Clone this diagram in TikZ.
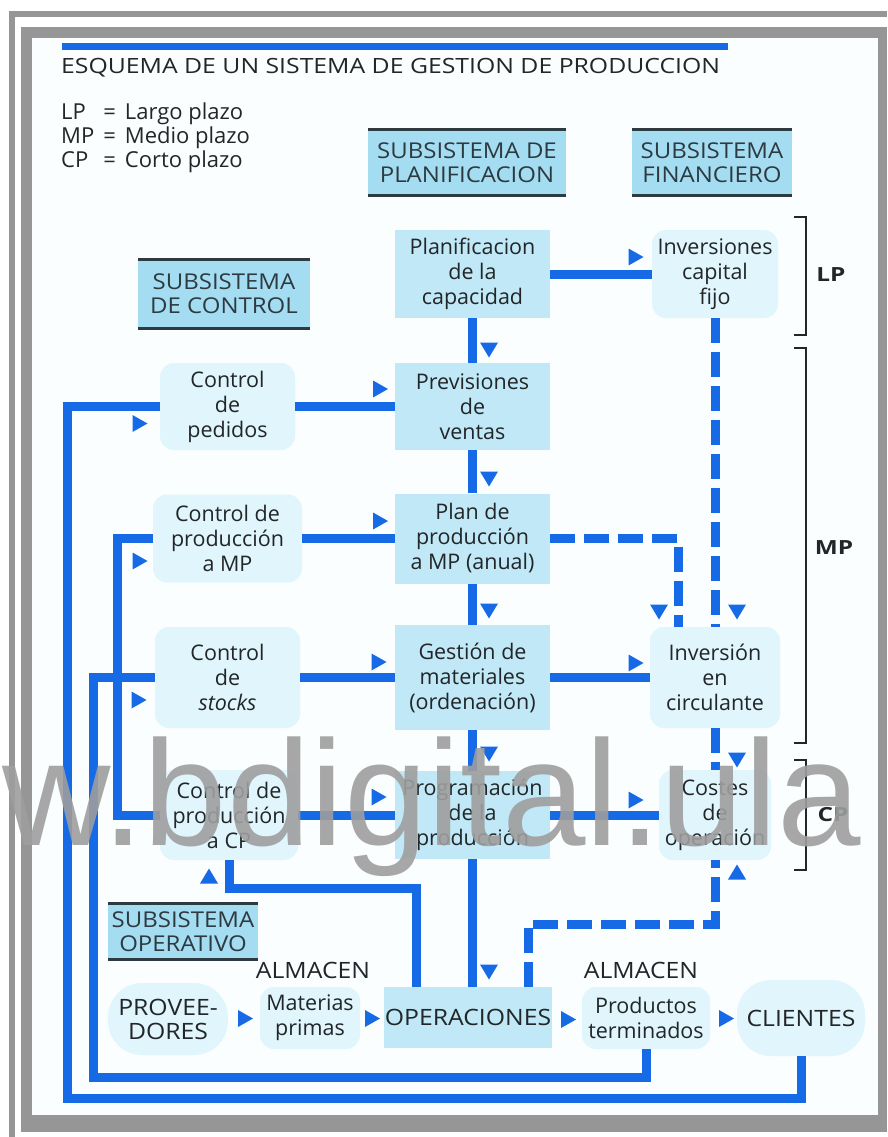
\documentclass[tikz,border=0pt]{standalone}
\usepackage{fontspec}
\setmainfont{Open Sans}
\setsansfont{Liberation Sans}
\newfontfamily\titlefont{Open Sans}[FakeStretch=1.18]
\newfontfamily\widefont{Open Sans}[FakeStretch=1.1]
\newfontfamily\widebold{Open Sans}[FakeStretch=1.25]
\usetikzlibrary{shapes.geometric}

\definecolor{flowblue}{RGB}{22,106,230}
\definecolor{planfill}{RGB}{192,232,246}
\definecolor{softfill}{RGB}{224,245,252}
\definecolor{hdrfill}{RGB}{164,220,242}
\definecolor{ink}{RGB}{34,38,40}
\definecolor{rulecol}{RGB}{45,58,64}
\definecolor{framegray}{RGB}{150,150,150}
\definecolor{panel}{RGB}{250,254,255}
\definecolor{wmgray}{RGB}{158,158,158}

\newcommand\txtbody{\fontsize{21.5}{25}\selectfont}
\newcommand\txtcaps{\widefont\fontsize{22.5}{24}\selectfont}
\newcommand\txthdr{\widefont\fontsize{21.8}{24}\selectfont}
\newcommand\txtterm{\widebold\bfseries\fontsize{19.5}{24}\selectfont}

\tikzset{
  pics/ar/.style={code={\fill[flowblue] (-7.5,-8.5) -- (7.5,0) -- (-7.5,8.5) -- cycle;}},
  pics/ad/.style={code={\fill[flowblue] (-9,-7.5) -- (9,-7.5) -- (0,7.5) -- cycle;}},
  pics/au/.style={code={\fill[flowblue] (-9,7.5) -- (9,7.5) -- (0,-7.5) -- cycle;}},
}

\begin{document}
\begin{tikzpicture}[x=1pt, y=-1pt,
  box/.style={rectangle, inner sep=0, align=center, text=ink, font=\txtbody},
  plan/.style={box, fill=planfill},
  soft/.style={box, fill=softfill, rounded corners=14},
  blob/.style={box, fill=softfill, rounded corners=34, font=\txtcaps},
  hdr/.style={box, fill=hdrfill, font=\txthdr, text=rulecol},
  hdrrule/.style={draw=rulecol, line width=3},
  flow/.style={draw=flowblue, line width=9},
  dflow/.style={flow, dash pattern=on 25pt off 9pt},
  brk/.style={draw=ink, line width=2},
]
\useasboundingbox (0,0) rectangle (887,1137);

% sheet and frame
\fill[white] (0,0) rectangle (887,1137);
\fill[framegray] (21,27) rectangle (887,1132);
\fill[panel] (32,38) rectangle (878,1115);
\draw[framegray, line width=6] (12,1137) -- (12,14.5) -- (887,14.5);

% title and legend
\fill[flowblue] (62,43) rectangle (728,50);
\node[box, anchor=west, font=\titlefont\fontsize{21}{24}\selectfont] (title) at (61,68)
  {ESQUEMA DE UN SISTEMA DE GESTION DE PRODUCCION};
\node[box, anchor=west, font=\fontsize{22}{24}\selectfont] (legend) at (61,139)
  {\begin{tabular}{@{}l@{\hspace{9pt}}c@{\hspace{9pt}}l@{}}LP&=&Largo plazo\\MP&=&Medio plazo\\CP&=&Corto plazo\end{tabular}};

% subsystem headers
\node[hdr, minimum width=198, minimum height=65] (hplan) at (467,162.5) {SUBSISTEMA DE\\PLANIFICACION};
\node[hdr, minimum width=160, minimum height=65] (hfin) at (712,162.5) {SUBSISTEMA\\FINANCIERO};
\node[hdr, minimum width=172, minimum height=68] (hctrl) at (224,294) {SUBSISTEMA\\DE CONTROL};
\node[hdr, minimum width=150, minimum height=55] (hop) at (183,931.5) {SUBSISTEMA\\OPERATIVO};
\foreach \h in {hplan,hfin,hctrl,hop}{
  \draw[hdrrule] (\h.north west) -- (\h.north east);
  \draw[hdrrule] (\h.south west) -- (\h.south east);
}

% planning column
\node[plan, minimum width=155, minimum height=88] (planif) at (472.5,274) {Planificacion\\de la\\capacidad};
\node[plan, minimum width=155, minimum height=87] (prev) at (472.5,406.5) {Previsiones\\de\\ventas};
\node[plan, minimum width=155, minimum height=90] (planprod) at (472.5,538.5) {Plan de\\producción\\a MP (anual)};
\node[plan, minimum width=155, minimum height=105] (gest) at (472.5,677.5) {Gestión de\\materiales\\(ordenación)};
\node[plan, minimum width=155, minimum height=88] (prog) at (472.5,815) {Programación\\de la\\producción};

% control column
\node[soft, minimum width=135, minimum height=87] (cped) at (227.5,406.5) {Control\\de\\pedidos};
\node[soft, minimum width=149, minimum height=88] (cmp) at (227.5,538.5) {Control de\\producción\\a MP};
\node[soft, minimum width=145, minimum height=101] (cstk) at (227.5,677.5) {Control\\de\\\textit{stocks}};
\node[soft, minimum width=138, minimum height=90] (ccp) at (229,815) {Control de\\producción\\a CP};

% financial column
\node[soft, minimum width=126, minimum height=88] (inv) at (715,274) {Inversiones\\capital\\fijo};
\node[soft, minimum width=130, minimum height=101] (circ) at (715,677.5) {Inversión\\en\\circulante};
\node[soft, minimum width=112, minimum height=90] (cost) at (715,815) {Costes\\de\\operación};

% operating chain
\node[blob, minimum width=120, minimum height=72] (prov) at (168,1019) {PROVEE-\\DORES};
\node[soft, minimum width=100, minimum height=62] (mat) at (310,1018) {Materias\\primas};
\node[box, font=\txtcaps] (alm1) at (313,970) {ALMACEN};
\node[plan, minimum width=168, minimum height=61, font=\txtcaps] (oper) at (468,1017.5) {OPERACIONES};
\node[soft, minimum width=128, minimum height=62] (prodt) at (646,1018) {Productos\\terminados};
\node[box, font=\txtcaps] (alm2) at (641,970) {ALMACEN};
\node[blob, minimum width=128, minimum height=76] (cli) at (801,1018) {CLIENTES};

% time-horizon brackets
\draw[brk] (794,217) -- (806,217) -- (806,335) -- (794,335);
\draw[brk] (794,348) -- (806,348) -- (806,743) -- (794,743);
\draw[brk] (794,760) -- (806,760) -- (806,870) -- (794,870);
\node[box, font=\txtterm] (lp) at (831,275) {LP};
\node[box, font=\txtterm] (mp) at (834,548) {MP};
\node[box, font=\txtterm] (cp) at (833,815) {CP};

% main flows
\draw[flow] (planif) -- (inv);
\draw[flow] (planif) -- (prev);
\draw[flow] (prev) -- (planprod);
\draw[flow] (planprod) -- (gest);
\draw[flow] (gest) -- (prog);
\draw[flow] (prog) -- (oper.north -| prog.south);
\draw[flow] (cped) -- (prev);
\draw[flow] (cmp) -- (planprod);
\draw[flow] (cstk) -- (gest);
\draw[flow] (ccp) -- (prog);
\draw[flow] (gest) -- (circ);
\draw[flow] (prog) -- (cost);

% feedback loops
\coordinate (opL) at (416,987);
\coordinate (opR) at (528,987);
\draw[flow] (cli.south) |- (67,1098) -- (67,406.5) -- (cped.west);
\draw[flow] (prodt.south) |- (93,1077) -- (93,677.5) -- (cstk.west);
\draw[flow] (ccp.west) -| (117,538.5) -- (cmp.west);
\draw[flow] (opL) -- (416,888) -| (ccp.south);

% financial (dashed) flows
\draw[dflow] (opR) -- (528,924) -| (cost.south);
\draw[dflow] (planprod.east) -| ([xshift=-37pt]circ.north);
\draw[dflow] (inv.south) -- (circ.north);
\draw[dflow] (circ.south) -- (cost.north);

% arrow heads
\pic at (636,257) {ar};
\pic at (489,350) {ad};
\pic at (489,479) {ad};
\pic at (489,611) {ad};
\pic at (489,754) {ad};
\pic at (489,972) {ad};
\pic at (380.5,389) {ar};
\pic at (380.5,521) {ar};
\pic at (379,662) {ar};
\pic at (379,797) {ar};
\pic at (636,663) {ar};
\pic at (636,800) {ar};
\pic at (737,612) {ad};
\pic at (659,612) {ad};
\pic at (737,760) {ad};
\pic at (737,872) {au};
\pic at (209,876) {au};
\pic at (140,423.5) {ar};
\pic at (140,561) {ar};
\pic at (139,700) {ar};
\pic at (245.5,1018.5) {ar};
\pic at (372.5,1018.5) {ar};
\pic at (568.5,1019.5) {ar};
\pic at (726.5,1018.5) {ar};

% watermark
\node[anchor=base west, inner sep=0, text=wmgray, opacity=0.9,
      font=\sffamily\fontsize{150}{150}\selectfont] (wm) at (2,845) {w.bdigital.ula};
\end{tikzpicture}
\end{document}
